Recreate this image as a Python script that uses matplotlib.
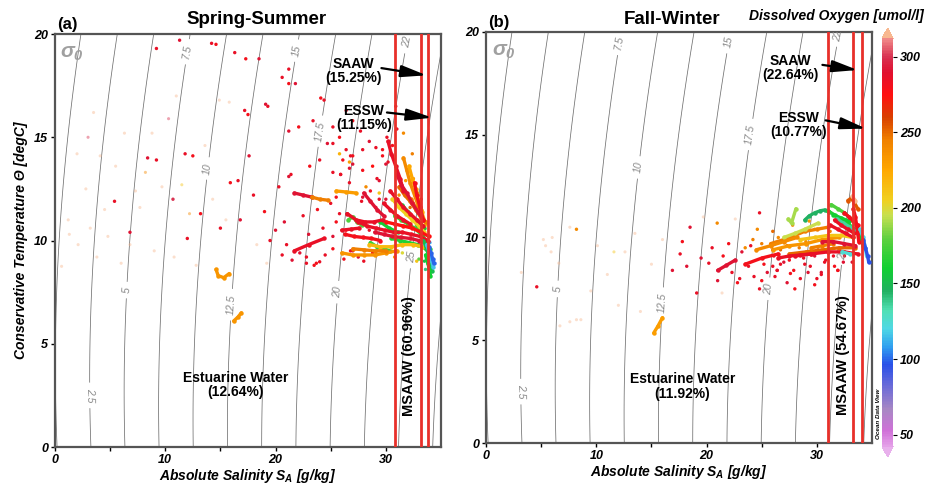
import numpy as np
import matplotlib
matplotlib.use('Agg')
import matplotlib.pyplot as plt
from matplotlib.colors import LinearSegmentedColormap, Normalize
from matplotlib.cm import ScalarMappable

plt.rcParams['font.family'] = ['Liberation Sans', 'DejaVu Sans']
plt.rcParams['font.weight'] = 'bold'
plt.rcParams['font.style'] = 'italic'
plt.rcParams['axes.labelweight'] = 'bold'
plt.rcParams['mathtext.fontset'] = 'custom'
plt.rcParams['mathtext.rm'] = 'Liberation Sans:italic:bold'
plt.rcParams['mathtext.it'] = 'Liberation Sans:italic:bold'
plt.rcParams['mathtext.bf'] = 'Liberation Sans:italic:bold'

# ---- Spring-Summer (a) : profile streaks (S, T, O2) ----
ss_track_s = [
    [26.6, 27.0, 27.4, 27.8], [28.6, 29.2, 29.8, 30.4], [29.5, 30.3, 31.1],
    [30.8, 31.4, 32.0, 32.6, 33.2], [31.5, 32.0, 32.5, 33.0, 33.5], [30.5, 31.3, 32.1, 32.9, 33.6],
    [32.8, 33.2, 33.6, 34.0],
    [30.6, 31.2, 31.8, 32.4, 33.0, 33.5], [28.5, 29.5, 30.5, 31.5, 32.5, 33.3], [32.8, 33.2, 33.6],
    [31.6, 31.9, 32.2, 32.6, 33.0], [32.1, 32.4, 32.7, 33.0, 33.3], [32.3, 32.7, 33.1, 33.6],
    [31.2, 31.7, 32.2, 32.7, 33.2],
    [26.0, 27.0, 28.0, 29.0, 30.0, 31.0], [27.0, 28.0, 29.0, 30.0],
    [30.2, 30.5, 30.9, 31.3, 31.6], [31.0, 31.4, 31.9, 32.4, 32.9, 33.4], [32.6, 32.8, 33.1, 33.4],
    [30.4, 31.0, 31.6, 32.2, 32.8, 33.4],
    [29.8, 30.4, 31.0, 31.6, 32.2], [27.5, 28.3, 29.1, 29.9, 30.7, 31.5, 32.3, 33.1, 33.8],
    [26.3, 27.1, 27.9, 28.7, 29.5], [30.0, 30.8, 31.6, 32.4, 33.2, 33.9],
    [29.0, 29.8, 30.6, 31.4, 32.2, 33.0],
    [26.5, 27.3, 28.1, 28.9, 29.7], [28.0, 28.6, 29.2, 29.8],
    [33.4, 33.7, 33.9, 34.1, 34.2], [33.6, 33.8, 33.95, 34.05], [33.7, 33.95, 34.15, 34.3],
    [33.9, 34.1, 34.25, 34.35],
    [21.7, 23.0, 24.4], [21.7, 22.5, 23.3], [23.3, 24.0, 24.8], [25.5, 26.4, 27.3], [26.0, 26.8, 27.6],
    [14.6, 14.8, 15.3, 15.8], [16.2, 16.6, 16.9],
]
ss_track_t = [
    [11.0, 11.15, 10.9, 10.75], [9.9, 9.7, 9.6, 9.5], [10.9, 10.6, 10.4],
    [11.2, 11.0, 10.8, 10.6, 10.3], [11.7, 11.4, 11.1, 10.9, 10.6], [10.1, 10.0, 9.9, 9.8, 9.6],
    [10.8, 10.4, 10.0, 9.6],
    [12.0, 11.6, 11.3, 11.0, 10.7, 10.4], [9.8, 9.7, 9.7, 9.8, 9.8, 9.7], [12.2, 11.5, 10.8],
    [14.0, 13.4, 12.8, 12.2, 11.6], [13.6, 13.0, 12.5, 11.9, 11.4], [12.0, 11.6, 11.3, 10.9],
    [12.6, 12.2, 11.9, 11.5, 11.1],
    [9.4, 9.3, 9.3, 9.3, 9.4, 9.5], [9.6, 9.55, 9.5, 9.5],
    [14.8, 14.2, 13.6, 13.0, 12.4], [13.2, 12.7, 12.3, 11.8, 11.4, 11.0], [12.8, 12.2, 11.6, 11.0],
    [12.4, 12.0, 11.6, 11.3, 11.0, 10.7],
    [11.8, 11.5, 11.2, 11.0, 10.8], [10.9, 10.7, 10.6, 10.5, 10.4, 10.4, 10.3, 10.2, 10.0],
    [10.3, 10.2, 10.15, 10.1, 10.0], [10.9, 10.8, 10.7, 10.6, 10.4, 10.2],
    [10.4, 10.3, 10.2, 10.15, 10.1, 10.0],
    [11.3, 11.0, 10.9, 10.9, 11.0], [12.3, 11.9, 11.5, 11.2],
    [10.0, 9.6, 9.2, 8.8, 8.5], [9.3, 8.9, 8.6, 8.3], [9.8, 9.4, 9.0, 8.7],
    [9.7, 9.4, 9.1, 8.9],
    [9.5, 9.8, 10.1], [12.3, 12.2, 12.1], [12.1, 12.0, 11.95], [12.4, 12.35, 12.3], [10.5, 10.55, 10.6],
    [8.6, 8.3, 8.2, 8.4], [6.1, 6.3, 6.5],
]
ss_track_o2 = [175, 170, 160,
               170, 160, 165,
               165,
               205, 215, 215,
               240, 225, 245,
               250,
               235, 245,
               285, 290, 280,
               285,
               285, 285,
               280, 275,
               290,
               285, 290,
               150, 160, 115,
               100,
               285, 290, 245, 230, 285,
               235, 235]

ss_dot_s = [9.2, 11.3, 14.2, 14.6, 16.3, 17.3, 18.5, 20.6, 21.2, 21.8, 21.2, 24.1, 24.4, 19.1, 19.3,
            17.2, 17.5, 23.4, 22.1, 21.2, 25.2, 25.8, 26.4, 27.0, 24.7, 24.0, 23.1, 21.2, 25.2, 25.9,
            17.6, 16.6, 15.9, 10.7, 11.8, 12.5, 8.4, 9.2, 5.4, 6.8,
            26.4, 27.0, 27.7, 28.5, 29.1, 29.7, 30.2, 30.6, 31.0, 30.9, 31.6, 32.4,
            20.6, 21.5, 22.8, 23.5, 24.0, 22.2, 24.5, 25.2, 21.0, 23.0, 24.3, 25.5, 26.8, 27.5, 28.0,
            26.2, 19.5, 20.0, 22.5, 23.8, 25.0, 26.5, 27.8, 28.6, 29.2, 30.0, 20.3, 19.0, 18.0, 16.8,
            15.0, 13.2, 12.0, 21.4, 20.8, 22.8, 23.7, 25.9, 26.7, 26.8, 27.9, 29.4,
            25.2, 26.1, 27.0, 27.9, 28.8, 29.4, 26.7, 25.5, 27.9, 29.1, 29.7, 30.0, 25.8, 26.4, 28.5,
            25.2, 27.0, 28.8, 30.1, 30.6, 25.8, 26.7, 28.2, 29.4,
            31.2, 32.5, 31.8, 32.9, 33.2, 30.8, 31.5, 32.8, 33.0, 33.5, 32.2, 31.4, 33.6, 34.0]
ss_dot_t = [19.3, 19.7, 19.55, 19.5, 19.1, 18.8, 18.8, 17.9, 17.6, 17.6, 18.3, 16.9, 16.8, 16.6, 16.5,
            16.3, 16.1, 15.8, 15.5, 15.3, 15.5, 15.0, 14.4, 14.1, 14.7, 13.9, 13.6, 13.1, 13.3, 13.2,
            14.1, 12.9, 12.8, 12.0, 14.2, 14.1, 14.0, 13.9, 11.9, 10.4,
            16.3, 15.8, 15.3, 14.8, 14.5, 14.1, 13.8, 14.6, 15.4, 16.5, 15.2, 14.2,
            9.3, 9.05, 8.9, 8.8, 8.97, 9.4, 9.3, 9.6, 9.8, 10.3, 10.6, 10.9, 9.5, 9.2, 9.0,
            9.1, 10.0, 10.5, 11.2, 11.5, 11.8, 11.3, 11.9, 12.4, 13.0, 12.0, 12.6, 11.4, 12.2, 11.0,
            10.6, 11.3, 10.1, 13.2, 10.9, 9.2, 8.9, 13.2, 13.5, 14.1, 13.4, 12.0,
            14.7, 13.9, 13.7, 14.4, 13.6, 12.9, 12.8, 12.1, 12.1, 11.6, 14.4, 13.7, 11.3, 10.5, 10.5,
            10.2, 9.5, 9.4, 15.0, 14.1, 14.2, 13.8, 12.6, 12.3,
            12.2, 13.0, 12.9, 12.3, 12.0, 9.2, 9.4, 9.0, 9.1, 9.0, 11.6, 12.6, 8.6, 9.9]
ss_dot_o2 = [285, 290, 285, 280, 285, 280, 290, 285, 280, 290, 285, 280, 285, 290, 285,
             285, 280, 285, 280, 290, 285, 280, 285, 280, 290, 285, 280, 290, 285, 280,
             290, 285, 280, 300, 285, 280, 290, 285, 285, 290,
             285, 280, 285, 290, 285, 280, 285, 280, 285, 290, 240, 245,
             285, 290, 285, 280, 285, 290, 285, 280, 285, 290, 285, 280, 285, 290, 285,
             280, 285, 290, 285, 280, 285, 290, 285, 280, 285, 290, 285, 280, 285, 290,
             285, 280, 285, 285, 290, 285, 280, 285, 290, 285, 280, 285,
             285, 280, 290, 285, 275, 290, 285, 280, 290, 285, 280, 290, 285, 280, 285,
             290, 285, 280, 285, 290, 220, 230, 240, 210,
             240, 235, 230, 245, 280, 230, 200, 210, 180, 150, 250, 230, 140, 110]

ss_faint_s = [2.0, 3.5, 4.1, 3.0, 7.7, 14.3, 15.5, 11.5, 12.2, 14.9, 15.8, 2.1, 6.8, 0.6, 1.2, 2.8,
              5.5, 8.8, 10.3, 3.2, 4.8, 6.0, 9.0, 10.8, 12.8, 18.3, 19.2, 1.3, 3.8, 7.3, 9.7, 13.6,
              11.0, 6.3, 4.5, 8.2]
ss_faint_t = [14.2, 16.2, 14.1, 15.0, 11.6, 12.0, 11.0, 12.7, 11.3, 16.8, 16.7, 9.8, 9.8, 8.75, 11.0, 12.5,
              13.6, 15.2, 15.9, 10.6, 10.2, 8.9, 9.5, 9.2, 8.8, 9.8, 8.9, 10.3, 9.2, 12.4, 12.6, 14.6,
              17.0, 15.2, 11.5, 13.3]
ss_faint_o2 = [330, 330, 330, 300, 330, 330, 330, 210, 240, 330, 330, 330, 330, 330, 330, 330,
               330, 330, 300, 330, 330, 330, 330, 330, 330, 330, 330, 330, 330, 330, 330, 330,
               330, 330, 330, 240]

# ---- Fall-Winter (b) ----
fw_track_s = [
    [27.4, 27.7, 28.1], [28.9, 29.3, 29.8, 30.3, 30.7, 31.1],
    [31.0, 31.6, 32.2, 32.8, 33.4], [31.3, 31.9, 32.5, 33.1], [31.5, 32.2, 32.9],
    [31.8, 32.4, 33.0, 33.5], [33.5, 33.8, 34.0, 34.2],
    [25.8, 27.0, 28.0, 28.9, 30.0, 31.0], [27.0, 28.0, 28.9, 30.1], [26.0, 27.5, 29.0, 30.5, 32.0],
    [28.5, 29.8, 31.0, 32.2, 33.3], [24.5, 25.8, 27.0, 28.2], [27.5, 29.0, 30.5, 32.0, 33.5],
    [29.5, 30.5, 31.5],
    [32.8, 33.1, 33.4, 33.7], [33.2, 33.5],
    [32.5, 32.9, 33.3, 33.7], [31.6, 32.2, 32.8, 33.4], [31.2, 31.9, 32.6, 33.3],
    [33.3, 33.5, 33.6, 33.7, 33.8],
    [28.0, 29.5, 31.0, 32.5, 33.7], [30.5, 31.5, 32.5, 33.5], [26.5, 27.5, 28.5, 29.5],
    [21.0, 21.8, 22.6], [23.5, 25.0, 26.5],
    [33.9, 34.2, 34.4, 34.5], [34.2, 34.4, 34.6, 34.7], [32.3, 33.0],
    [15.2, 15.6, 16.0],
]
fw_track_t = [
    [10.9, 10.7, 11.4], [10.85, 11.05, 11.2, 11.3, 11.34, 11.25],
    [11.3, 11.1, 10.9, 10.7, 10.4], [11.6, 11.4, 11.2, 10.9], [11.1, 10.95, 10.8],
    [10.9, 10.7, 10.5, 10.3], [10.7, 10.3, 9.9, 9.6],
    [9.7, 9.9, 10.1, 10.3, 10.4, 10.5], [10.0, 10.2, 10.4, 10.7], [9.4, 9.6, 9.7, 9.9, 10.0],
    [9.9, 10.0, 10.1, 10.1, 10.0], [9.4, 9.6, 9.8, 10.0], [9.2, 9.3, 9.4, 9.5, 9.5],
    [9.5, 9.6, 9.7],
    [11.8, 11.9, 11.7, 11.4], [12.0, 11.8],
    [11.2, 11.0, 10.8, 10.6], [10.85, 10.6, 10.4, 10.2], [10.6, 10.4, 10.2, 10.0],
    [11.4, 11.0, 10.6, 10.2, 9.8],
    [9.1, 9.2, 9.3, 9.3, 9.2], [9.8, 9.8, 9.7, 9.6], [9.0, 9.1, 9.15, 9.2],
    [8.4, 8.65, 8.9], [8.7, 9.0, 9.2],
    [10.4, 10.0, 9.5, 9.1], [9.9, 9.5, 9.1, 8.8], [9.3, 9.2],
    [5.35, 5.7, 6.1],
]
fw_track_o2 = [190, 145,
               165, 175, 160,
               135, 160,
               245, 195, 235,
               210, 240, 250,
               245,
               255, 320,
               280, 285, 285,
               280,
               285, 290, 285,
               290, 280,
               120, 95, 125,
               230]

fw_dot_s = [4.6, 16.9, 17.6, 17.8, 19.1, 18.2, 20.2, 22.8, 24.3, 25.5, 26.7, 27.9, 29.4, 30.4, 31.9,
            18.5, 24.8, 21.5, 22.3, 23.2, 23.8, 25.0, 26.2, 27.3, 28.5, 29.8, 30.8, 26.0, 24.0, 22.0,
            20.5, 19.5, 28.8, 27.5, 31.5, 32.4, 26.4, 25.2, 23.0, 21.0, 24.8, 28.0, 30.0,
            26.1, 27.0, 27.9, 28.9, 29.8, 30.7, 31.6, 32.5, 33.2, 26.4, 27.6, 29.2, 30.4, 31.9,
            26.7, 28.4, 30.1, 26.0,
            25.0, 26.5, 27.3, 28.2, 29.0, 29.8, 30.5, 31.2, 27.8, 29.3, 26.0, 24.2, 23.5,
            20.96, 24.6, 8.2]
fw_dot_t = [7.6, 8.4, 9.2, 9.8, 7.3, 8.6, 8.75, 7.8, 8.1, 8.3, 8.7, 8.4, 8.6, 8.3, 8.4,
            10.5, 11.2, 9.1, 8.3, 9.3, 8.6, 7.9, 8.1, 7.8, 8.0, 7.7, 8.9, 9.4, 9.6, 9.7,
            9.5, 9.0, 9.0, 8.9, 9.1, 8.8, 8.4, 8.7, 8.0, 7.9, 7.5, 7.5, 8.0,
            9.1, 8.8, 9.2, 8.7, 9.1, 8.8, 8.6, 9.1, 8.8, 8.4, 8.25, 8.3, 8.2, 8.4,
            9.4, 9.5, 9.4, 8.6,
            9.7, 10.0, 9.6, 10.2, 9.8, 10.4, 9.9, 10.3, 10.6, 10.8, 10.3, 9.9, 9.5,
            10.7, 10.4, 10.4]
fw_dot_o2 = [285, 290, 285, 280, 285, 290, 285, 280, 285, 290, 285, 280, 285, 290, 285,
             290, 285, 280, 285, 290, 285, 280, 285, 290, 285, 280, 285, 290, 285, 280,
             285, 290, 285, 280, 285, 290, 285, 280, 285, 290, 285, 280, 285,
             285, 290, 280, 285, 290, 285, 280, 285, 290, 285, 280, 290, 285, 280,
             250, 245, 255, 285,
             245, 240, 250, 245, 240, 235, 250, 245, 240, 235, 250, 245, 240,
             240, 240, 240]

fw_faint_s = [3.2, 6.6, 5.4, 5.9, 8.2, 7.6, 8.6, 6.7, 10.1, 11.6, 12.6, 12.0, 14.0, 21.4, 7.6, 5.2,
              6.0, 13.5, 16.0, 15.0, 9.5, 11.0, 19.7, 22.6]
fw_faint_t = [8.3, 8.75, 9.6, 9.3, 6.0, 5.9, 6.0, 5.7, 9.6, 9.3, 9.3, 6.7, 6.4, 7.3, 10.5, 9.9,
              10.0, 10.2, 9.9, 8.7, 7.4, 8.2, 11.0, 10.9]
fw_faint_o2 = [330, 330, 330, 330, 330, 330, 330, 330, 330, 210, 330, 330, 330, 330, 330, 330,
               330, 330, 330, 330, 330, 330, 330, 330]

# water mass boundaries and labels
ss_bounds = [30.8, 33.15, 33.8]
fw_bounds = [31.0, 33.3, 34.1]
ss_pct = ['15.25%', '11.15%', '12.64%', '60.96%']
fw_pct = ['22.64%', '10.77%', '11.92%', '54.67%']

sigma_levels = np.arange(0, 28, 2.5)
cb_ticks = [50, 100, 150, 200, 250, 300]

# ODV-like oxygen colormap
vmin, vmax = 42, 312
stops = [(42, '#e4a0e8'), (52, '#d070d8'), (66, '#a888c4'), (82, '#6a6ad8'), (96, '#2850e8'),
         (108, '#30a0f0'), (120, '#50d8e4'), (132, '#50e0b4'), (145, '#20b060'), (160, '#10d030'),
         (180, '#60d040'), (195, '#c8e050'), (205, '#f0d020'), (225, '#ffa800'), (245, '#f08000'),
         (260, '#d84000'), (275, '#ff1010'), (290, '#e01030'), (300, '#d83050'), (312, '#f08888')]
cmap = LinearSegmentedColormap.from_list(
    'odv', [((v - vmin) / (vmax - vmin), c) for v, c in stops])
cmap.set_over('#f8b890')
cmap.set_under('#e8b0ec')
norm = Normalize(vmin, vmax)


def sigma0(s, t):
    rho_w = (999.842594 + 6.793952e-2 * t - 9.095290e-3 * t**2 + 1.001685e-4 * t**3
             - 1.120083e-6 * t**4 + 6.536332e-9 * t**5)
    a = 8.24493e-1 - 4.0899e-3 * t + 7.6438e-5 * t**2 - 8.2467e-7 * t**3 + 5.3875e-9 * t**4
    b = -5.72466e-3 + 1.0227e-4 * t - 1.6546e-6 * t**2
    return rho_w + a * s + b * s**1.5 + 4.8314e-4 * s**2 - 1000


sg, tg = np.meshgrid(np.linspace(0, 36, 300), np.linspace(-0.5, 20.5, 220))
sig = sigma0(sg, tg)
fmt = {lv: ('%g' % lv) for lv in sigma_levels}
fmt[22.5] = '22'

fig = plt.figure(figsize=(9.27, 4.84), dpi=100)
ax1 = fig.add_axes([0.0593, 0.0764, 0.4164, 0.8533])
ax2 = fig.add_axes([0.5243, 0.0847, 0.4164, 0.8492])


def draw_panel(ax, tr_s, tr_t, tr_o2, d_s, d_t, d_o2, f_s, f_t, f_o2, bounds, pct, lab_pos, txt_pos):
    cs = ax.contour(sg, tg, sig, levels=sigma_levels, colors='#707070', linewidths=0.55, zorder=1)
    labs = ax.clabel(cs, manual=lab_pos, inline=True, fmt=fmt, fontsize=7.5, colors='#8a8a8a')
    for lb in labs:
        lb.set_fontweight('normal')
        lb.set_fontstyle('italic')
    ax.scatter(f_s, f_t, c=f_o2, cmap=cmap, norm=norm, s=5, linewidths=0, alpha=0.45, zorder=2)
    ax.scatter(d_s, d_t, c=d_o2, cmap=cmap, norm=norm, s=6, linewidths=0, zorder=2)
    for s, t, o in zip(tr_s, tr_t, tr_o2):
        col = cmap(norm(o))
        ax.plot(s, t, color=col, lw=2.4, solid_capstyle='round', solid_joinstyle='round', zorder=3)
        ax.plot(s, t, 'o', color=col, ms=3.2, mew=0, zorder=3)
    for b in bounds:
        ax.axvline(b, color='#e8302a', lw=2, zorder=4)

    (sa_x, sa_y, sa_a, sa_b), (es_x, es_y, es_a, es_b), est, ms = txt_pos
    arrow = dict(arrowstyle='-|>,head_length=1.3,head_width=0.3', color='black',
                 lw=1.6, mutation_scale=12, shrinkA=0, shrinkB=0)
    ax.text(sa_x, sa_y, 'SAAW\n(' + pct[0] + ')', ha='center', va='center', fontsize=10,
            style='normal', linespacing=1.0, zorder=5)
    ax.annotate('', xy=sa_b, xytext=sa_a, arrowprops=arrow, zorder=5)
    ax.text(es_x, es_y, 'ESSW\n(' + pct[1] + ')', ha='center', va='center', fontsize=10,
            style='normal', linespacing=1.0, zorder=5)
    ax.annotate('', xy=es_b, xytext=es_a, arrowprops=arrow, zorder=5)
    ax.text(est[0], est[1], 'Estuarine Water\n(' + pct[2] + ')', ha='center', va='center',
            fontsize=10, style='normal', linespacing=1.05, zorder=5)
    ax.text(ms[0], ms[1], 'MSAAW (' + pct[3] + ')', ha='center', va='center', rotation=90,
            fontsize=10.5, style='normal', zorder=5)
    ax.text(0.5, 19.05, r'$\sigma_0$', color='#a0a0a0', fontsize=15, ha='left', va='center', zorder=5)

    ax.set_xlim(0, 35)
    ax.set_ylim(0, 20)
    ax.set_xticks([0, 10, 20, 30])
    ax.set_xticks([5, 15, 25], minor=True)
    ax.set_yticks([0, 5, 10, 15, 20])
    ax.tick_params(which='both', direction='out', length=3, width=1, labelsize=9, pad=2)
    for sp in ax.spines.values():
        sp.set_color('#555555')
        sp.set_linewidth(1.6)
    ax.set_xlabel(r'Absolute Salinity $S_A$ [g/kg]', fontsize=10, labelpad=1)


draw_panel(ax1, ss_track_s, ss_track_t, ss_track_o2, ss_dot_s, ss_dot_t, ss_dot_o2,
           ss_faint_s, ss_faint_t, ss_faint_o2, ss_bounds, ss_pct,
           [(11.9, 19.15), (21.85, 19.2), (31.9, 19.6), (13.7, 13.5), (24.0, 15.3), (6.5, 7.6),
            (15.8, 6.9), (25.6, 7.5), (3.0, 2.5), (32.3, 9.2)],
           [(27.1, 18.2, (29.6, 18.35), (33.7, 18.0)),
            (28.0, 15.95, (30.1, 16.2), (34.2, 15.95)),
            (16.4, 3.0), (32.1, 4.4)])
draw_panel(ax2, fw_track_s, fw_track_t, fw_track_o2, fw_dot_s, fw_dot_t, fw_dot_o2,
           fw_faint_s, fw_faint_t, fw_faint_o2, fw_bounds, fw_pct,
           [(12.0, 19.5), (22.0, 19.5), (32.2, 19.8), (14.0, 13.4), (24.15, 15.0), (6.4, 7.5),
            (16.1, 6.8), (25.8, 7.5), (3.1, 2.5), (32.5, 9.2)],
           [(27.6, 18.25, (30.5, 18.4), (33.7, 18.15)),
            (28.3, 15.45, (30.8, 15.7), (34.45, 15.3)),
            (17.8, 2.75), (32.4, 4.3)])
ax1.set_ylabel('Conservative Temperature Θ [degC]', fontsize=10, labelpad=4)

fig.text(57 / 927, 1 - 25 / 484, '(a)', fontsize=12, style='normal', ha='left', va='center')
fig.text(257 / 927, 1 - 20 / 484, 'Spring-Summer', fontsize=13.5, style='normal', ha='center', va='center')
fig.text(488 / 927, 1 - 22 / 484, '(b)', fontsize=12, style='normal', ha='left', va='center')
fig.text(672 / 927, 1 - 20 / 484, 'Fall-Winter', fontsize=13.5, style='normal', ha='center', va='center')
fig.text(924 / 927, 1 - 16 / 484, 'Dissolved Oxygen [umol/l]', fontsize=10, ha='right', va='center')

cax = fig.add_axes([0.9515, 0.0558, 0.0119, 0.886])
cb = fig.colorbar(ScalarMappable(norm=norm, cmap=cmap), cax=cax, extend='both', extendfrac=0.025,
                  ticks=cb_ticks)
cb.outline.set_visible(False)
cb.ax.tick_params(length=3, width=0.8, labelsize=9, pad=2)
fig.text(879 / 927, 1 - 414 / 484, 'Ocean Data View', fontsize=4.5, rotation=90,
         ha='center', va='center')

fig.savefig('out.png', dpi=100)
